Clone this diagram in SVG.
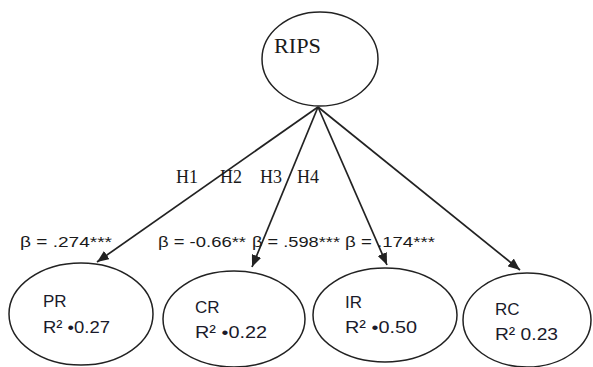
<svg xmlns="http://www.w3.org/2000/svg" width="593" height="367" viewBox="0 0 593 367">
<style>
.node{fill:#fff;stroke:#222;stroke-width:1.5}
.edge{stroke:#222;stroke-width:1.7;fill:none;marker-end:url(#ah)}
.serif{font-family:"Liberation Serif",serif;fill:#1a1a1a}
.beta{font-family:"Liberation Sans",sans-serif;font-size:15.5px;fill:#1a1a1a}
.lab{font-family:"Liberation Sans",sans-serif;font-size:17px;fill:#1a1a2a}
</style>
<defs>
<marker id="ah" viewBox="0 0 12 10" refX="12" refY="5" markerWidth="12" markerHeight="10" markerUnits="userSpaceOnUse" orient="auto">
<path d="M0,0 L12,5 L0,10 Z" fill="#222"/>
</marker>
</defs>
<rect width="593" height="367" fill="#fff"/>
<g id="connectors">
<line class="edge" x1="318" y1="107" x2="97" y2="262"/>
<line class="edge" x1="318" y1="107" x2="252" y2="267"/>
<line class="edge" x1="318" y1="107" x2="387" y2="265"/>
<line class="edge" x1="318" y1="107" x2="520" y2="270"/>
</g>
<g id="labels">
<text class="serif" font-size="18" x="176" y="183">H1</text>
<text class="serif" font-size="18" x="220" y="183">H2</text>
<text class="serif" font-size="18" x="260" y="183">H3</text>
<text class="serif" font-size="18" x="297" y="183">H4</text>
<text class="beta" x="20" y="247" textLength="92" lengthAdjust="spacingAndGlyphs">β = .274***</text>
<text class="beta" x="158" y="247" textLength="88" lengthAdjust="spacingAndGlyphs">β = -0.66**</text>
<text class="beta" x="252" y="247" textLength="88" lengthAdjust="spacingAndGlyphs">β = .598***</text>
<text class="beta" x="345" y="247" textLength="90" lengthAdjust="spacingAndGlyphs">β = .174***</text>
</g>
<g id="RIPS">
<ellipse class="node" cx="320" cy="59" rx="58" ry="47"/>
<text class="serif" font-size="21" x="274" y="53" textLength="47" lengthAdjust="spacingAndGlyphs">RIPS</text>
</g>
<g id="PR">
<ellipse class="node" cx="81" cy="314" rx="72" ry="51"/>
<text class="lab" x="43" y="307">PR</text>
<text class="lab" x="43" y="333" textLength="67" lengthAdjust="spacingAndGlyphs">R² •0.27</text>
</g>
<g id="CR">
<ellipse class="node" cx="234" cy="319" rx="71" ry="48"/>
<text class="lab" x="195" y="313">CR</text>
<text class="lab" x="195" y="338" textLength="72" lengthAdjust="spacingAndGlyphs">R² •0.22</text>
</g>
<g id="IR">
<ellipse class="node" cx="385" cy="315" rx="72" ry="47"/>
<text class="lab" x="345" y="308">IR</text>
<text class="lab" x="345" y="333" textLength="72" lengthAdjust="spacingAndGlyphs">R² •0.50</text>
</g>
<g id="RC">
<ellipse class="node" cx="527" cy="320" rx="64" ry="47"/>
<text class="lab" x="495" y="315">RC</text>
<text class="lab" x="495" y="340" textLength="63" lengthAdjust="spacingAndGlyphs">R² 0.23</text>
</g>
</svg>
